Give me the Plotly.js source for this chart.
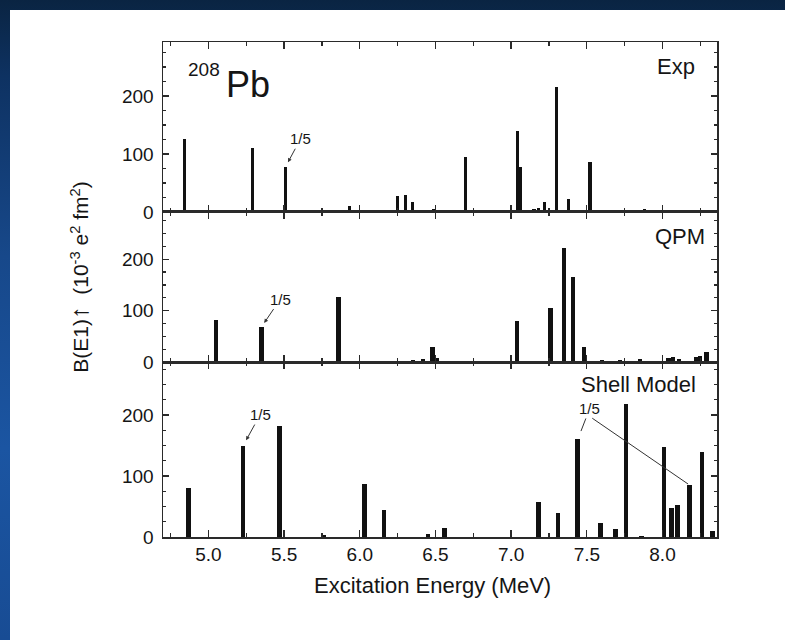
<!DOCTYPE html>
<html><head><meta charset="utf-8">
<script src="https://cdn.plot.ly/plotly-3.0.1.min.js"></script>
<style>
html,body{margin:0;padding:0;width:785px;height:640px;overflow:hidden;}
body{background:linear-gradient(180deg,#0a2442 0%,#0e3262 12%,#17488a 40%,#1b55a2 70%,#184c94 100%);}
#chart{position:absolute;left:10px;top:10px;width:775px;height:630px;background:#fff;}
</style></head><body><div id="chart"></div><script>
// Excitation energies (MeV) and B(E1)↑ values (10^-3 e^2 fm^2)
const expE   = [4.84, 5.29, 5.51, 5.93, 6.25, 6.30, 6.35, 6.49, 6.70, 7.04, 7.06, 7.15, 7.18, 7.22, 7.30, 7.38, 7.52, 7.68, 7.88];
const expB   = [125, 110, 78, 10, 28, 30, 18, 5, 95, 140, 78, 6, 7, 18, 215, 22, 87, 4, 6];
const qpmE   = [5.05, 5.35, 5.86, 6.35, 6.42, 6.48, 6.51, 6.90, 7.04, 7.26, 7.35, 7.41, 7.48, 7.60, 7.72, 7.85, 8.04, 8.07, 8.11, 8.22, 8.25, 8.29];
const qpmB   = [82, 68, 127, 3, 5, 30, 8, 2, 80, 105, 222, 165, 30, 4, 4, 5, 8, 10, 6, 10, 12, 20];
const shellE = [4.87, 5.23, 5.47, 5.76, 6.03, 6.16, 6.45, 6.56, 7.18, 7.31, 7.44, 7.59, 7.69, 7.76, 7.86, 8.01, 8.06, 8.10, 8.18, 8.26, 8.33];
const shellB = [80, 150, 182, 3, 87, 45, 5, 15, 57, 40, 160, 23, 13, 218, 2, 148, 47, 53, 85, 140, 10];
const xTicks = [5.0, 5.5, 6.0, 6.5, 7.0, 7.5, 8.0];
const panelNames = ['Exp', 'QPM', 'Shell Model'];

const FONT = '"Liberation Sans", Arial, Helvetica, sans-serif';
const TXT = '#151515';
const LINE = '#2a2a2a';

function bars(x, y, xa, ya, w) {
  return {type:'bar', x:x, y:y, xaxis:xa, yaxis:ya, width:w,
          marker:{color:'#111', line:{width:0}}, hoverinfo:'x+y', showlegend:false};
}
const data = [
  bars(expE, expB, 'x', 'y', 0.022),
  bars(qpmE, qpmB, 'x2', 'y2', 0.028),
  bars(shellE, shellB, 'x3', 'y3', 0.03)
];

function xax(anchor, labels) {
  return {domain:[0,1], anchor:anchor, range:[4.70, 8.36], tickmode:'array', tickvals:xTicks,
    ticktext:xTicks.map(v=>v.toFixed(1)), showticklabels:labels,
    ticks:'inside', ticklen:7, tickwidth:1.3, tickcolor:LINE,
    minor:{dtick:0.25, tick0:5, ticks:'inside', ticklen:4, tickcolor:LINE, showgrid:false},
    showline:true, mirror:'ticks', linecolor:LINE, linewidth:1.5,
    showgrid:false, zeroline:false,
    tickfont:{family:FONT, size:19, color:TXT}};
}
function yax(anchor, dom, top) {
  return {domain:dom, anchor:anchor, range:[0, top], dtick:100, tick0:0,
    ticks:'inside', ticklen:6, tickwidth:1.3, tickcolor:LINE,
    minor:{dtick:25, ticks:'inside', ticklen:3, tickcolor:LINE, showgrid:false},
    showline:true, mirror:'ticks', linecolor:LINE, linewidth:1.5,
    showgrid:false, zeroline:false, ticklabelstandoff:4,
    tickfont:{family:FONT, size:19, color:TXT}};
}

function txt(t, x, y, size, xa, extra) {
  return Object.assign({text:t, xref:'paper', yref:'paper', x:x, y:y, showarrow:false,
    xanchor:xa, yanchor:'middle', font:{family:FONT, size:size, color:TXT}}, extra||{});
}
function arrow(t, x, y, xr, yr, ax, ay, head, standoff) {
  return {text:t, x:x, y:y, xref:xr, yref:yr, ax:ax, ay:ay, showarrow:true,
    arrowhead:head, arrowsize:0.8, arrowwidth:1, arrowcolor:'#333', standoff:standoff,
    font:{family:FONT, size:15, color:TXT}};
}
const iE = expE.indexOf(5.51), iQ = qpmE.indexOf(5.35), iS1 = shellE.indexOf(5.23),
      iS2 = shellE.indexOf(7.44), iS3 = shellE.indexOf(8.18);

const layout = {
  width:775, height:630,
  margin:{l:153, r:68, t:32, b:103},
  paper_bgcolor:'#fff', plot_bgcolor:'#fff',
  bargap:0,
  xaxis: xax('y', false),
  xaxis2: Object.assign(xax('y2', false), {matches:'x'}),
  xaxis3: Object.assign(xax('y3', true), {matches:'x'}),
  yaxis: yax('x', [0.6566, 1], 293),
  yaxis2: yax('x2', [0.3535, 0.6566], 292),
  yaxis3: yax('x3', [0, 0.3535], 287),
  annotations: [
    txt('208', 0.1065, 0.9444, 19, 'right'),
    txt('Pb', 0.1101, 0.915, 36, 'left'),
    txt(panelNames[0], 0.9639, 0.9495, 22, 'right'),
    txt(panelNames[1], 0.982, 0.608, 22, 'right'),
    txt(panelNames[2], 0.9657, 0.3071, 22, 'right'),
    txt('B(E1)<b><span style="font-size:25px">↑</span></b>  (10<sup>-3</sup> e<sup>2</sup> fm<sup>2</sup>)', -0.1516, 0.524, 21, 'center', {textangle:-90}),
    txt('Excitation Energy (MeV)', 0.4856, -0.097, 22, 'center'),
    arrow('1/5', expE[iE], expB[iE], 'x', 'y', 15, -28, 2, 5),
    arrow('1/5', qpmE[iQ], qpmB[iQ], 'x2', 'y2', 19, -28, 2, 5),
    arrow('1/5', shellE[iS1], shellB[iS1], 'x3', 'y3', 17, -31, 2, 6),
    arrow('1/5', shellE[iS2], shellB[iS2], 'x3', 'y3', 12, -31, 0, 9),
    arrow('', shellE[iS3], shellB[iS3], 'x3', 'y3', -99, -68, 0, 2)
  ]
};
Plotly.newPlot('chart', data, layout, {staticPlot:true, displayModeBar:false});
</script></body></html>
